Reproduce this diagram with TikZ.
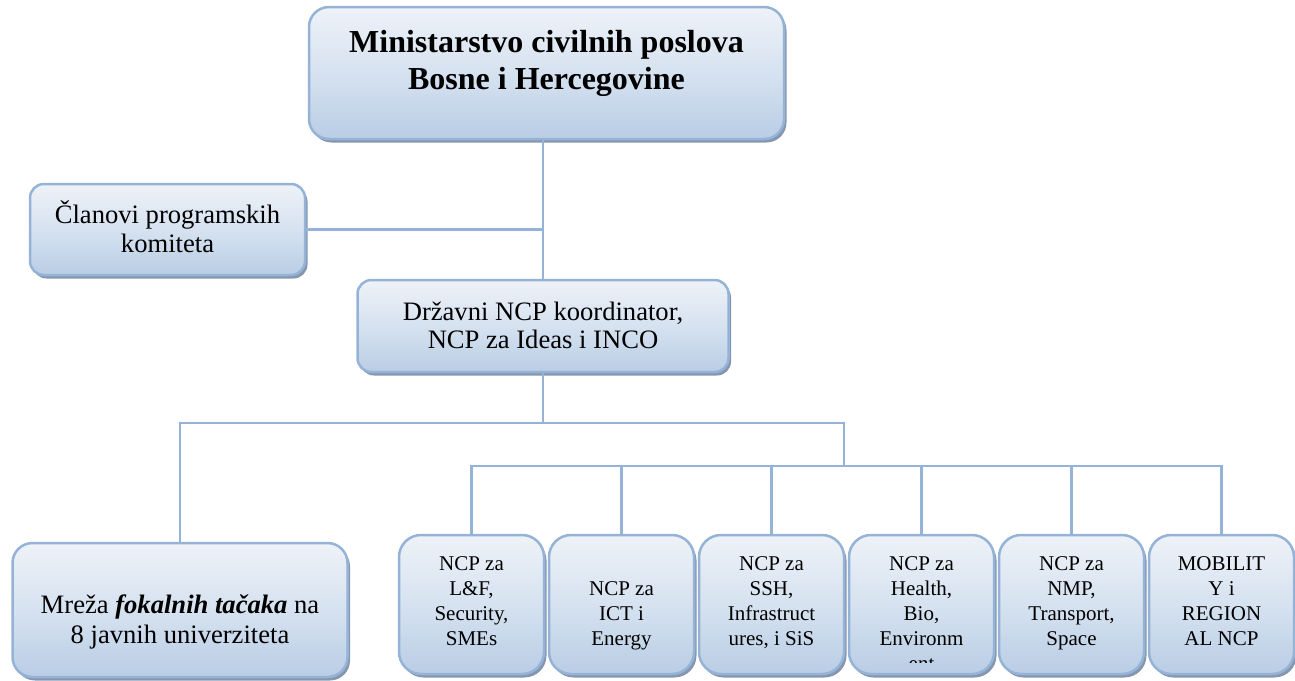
\documentclass[tikz,border=0pt]{standalone}
\usepackage{fontspec}
\setmainfont{Liberation Serif}
\usetikzlibrary{shadows}
\definecolor{bord}{RGB}{149,179,215}
\definecolor{shadc}{RGB}{135,150,175}
\definecolor{ftop}{RGB}{238,242,248}
\definecolor{fmid}{RGB}{214,226,240}
\definecolor{fbot}{RGB}{185,205,229}
\newcommand{\boxlines}[2]{\raisebox{#1}[0pt][0pt]{\begin{tabular}[t]{@{}c@{}}#2\end{tabular}}}
\begin{document}
\begin{tikzpicture}[x=1pt,y=-1pt,
  box/.style={draw=bord, line width=2.5pt, top color=ftop, bottom color=fbot, middle color=fmid,
    inner sep=0pt, drop shadow={shadow xshift=2.5pt, shadow yshift=-3.5pt, fill=shadc, opacity=1}},
  small/.style={box, rounded corners=22pt, minimum width=145pt, minimum height=139pt,
    font=\fontsize{21}{25}\selectfont},
  conn/.style={draw=bord, line width=2.5pt}]
\useasboundingbox (0,0) rectangle (1295,680);

\node[box, rounded corners=20pt, minimum width=475pt, minimum height=132pt,
  font=\bfseries\fontsize{32}{37.5}\selectfont] (top) at (546.5,73)
  {\boxlines{21pt}{Ministarstvo civilnih poslova\\Bosne i Hercegovine}};
\node[box, rounded corners=14pt, minimum width=275pt, minimum height=91pt,
  font=\fontsize{26.6}{29}\selectfont] (cl) at (167.5,229.5)
  {\boxlines{6.5pt}{Članovi programskih\\komiteta}};
\node[box, rounded corners=14pt, minimum width=371pt, minimum height=92pt,
  font=\fontsize{26.6}{28}\selectfont] (dr) at (543,326)
  {\boxlines{6pt}{Državni NCP koordinator,\\NCP za Ideas i INCO}};
\node[box, rounded corners=20pt, minimum width=335pt, minimum height=134pt,
  font=\fontsize{26.6}{30}\selectfont] (mr) at (180,610)
  {\boxlines{-3pt}{Mreža \textbf{\textit{fokalnih tačaka}} na\\8 javnih univerziteta}};

\node[small] (b1) at (471.5,604.5) {\boxlines{34.5pt}{NCP za\\L\&F,\\Security,\\SMEs}};
\node[small] (b2) at (621.5,604.5) {\boxlines{9.5pt}{NCP za\\ICT i\\Energy}};
\node[small] (b3) at (771.5,604.5) {\boxlines{34.5pt}{NCP za\\SSH,\\Infrastruct\\ures, i SiS}};
\node[small] (b4) at (921.5,604.5) {\boxlines{34.5pt}{NCP za\\Health,\\Bio,\\Environm}};
\node[small] (b5) at (1071.5,604.5) {\boxlines{34.5pt}{NCP za\\NMP,\\Transport,\\Space}};
\node[small] (b6) at (1221.5,604.5) {\boxlines{34.5pt}{MOBILIT\\Y i\\REGION\\AL NCP}};
\begin{scope}
  \clip (849,540) rectangle (994,662);
  \node[anchor=base, inner sep=0pt, font=\fontsize{21}{25}\selectfont] (b4e) at (921.5,670) {ent};
\end{scope}

\coordinate (j1) at (543,423);
\coordinate (j2) at (844,423);
\coordinate (j3) at (844,466);
\draw[conn] (top.south -| dr.north) -- (dr.north);
\draw[conn] (cl.east) -- (cl.east -| dr.north);
\draw[conn] (dr.south) -- (j1);
\draw[conn] (mr.north) |- (j2) -- (j3);
\draw[conn] (b1.north) |- (j3) -| (b6.north);
\foreach \i in {2,3,4,5} { \draw[conn] (b\i.north) -- (b\i.north |- j3); }
\end{tikzpicture}
\end{document}
